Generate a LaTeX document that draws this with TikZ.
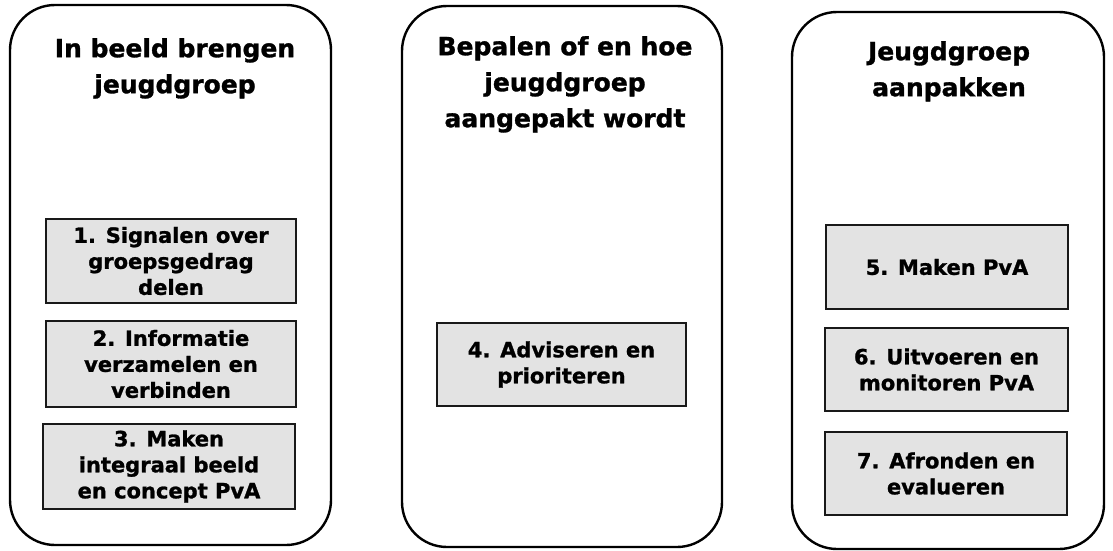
\documentclass[tikz,border=0pt]{standalone}
\usepackage{fontspec}
\setmainfont{DejaVu Sans}
\newfontfamily\heavyfont{DejaVu Sans Bold}[FakeBold=1.2]
\begin{document}
\begin{tikzpicture}[x=1pt,y=-1pt,
  panel/.style={draw=black, line width=2.4pt, rounded corners=45pt, inner sep=0pt},
  title/.style={font=\heavyfont\fontsize{25}{36}\selectfont, align=center, inner sep=0pt, text=black},
  stepbox/.style={draw=black!90, line width=1.8pt, fill=black!11, inner sep=0pt, align=center,
    font=\heavyfont\fontsize{21}{26}\selectfont, text=black}]
\useasboundingbox (0,0) rectangle (1113,551);
\fill[white] (0,0) rectangle (1113,551);
% panels
\node[panel, minimum width=321pt, minimum height=540pt] (p1) at (170.5,275) {};
\node[panel, minimum width=320pt, minimum height=541pt] (p2) at (562,276.5) {};
\node[panel, minimum width=312pt, minimum height=537pt] (p3) at (948,280.5) {};
% titles
\node[title, anchor=north] (t1) at (175,38) {In beeld brengen\\jeugdgroep};
\node[title, anchor=north] (t2) at (565,36) {Bepalen of en hoe\\jeugdgroep\\aangepakt wordt};
\node[title, anchor=north] (t3) at (949,41) {Jeugdgroep\\aanpakken};
% steps
\node[stepbox, minimum width=250pt, minimum height=84pt] (s1) at (171,261) {1. Signalen over\\groepsgedrag\\delen};
\node[stepbox, minimum width=250pt, minimum height=86pt] (s2) at (171,364) {2. Informatie\\verzamelen en\\verbinden};
\node[stepbox, minimum width=252pt, minimum height=85pt] (s3) at (169,466.5) {3. Maken\\integraal beeld\\en concept PvA};
\node[stepbox, minimum width=249pt, minimum height=83pt] (s4) at (561.5,364.5) {4. Adviseren en\\prioriteren};
\node[stepbox, minimum width=242pt, minimum height=84pt] (s5) at (947,267) {5. Maken PvA};
\node[stepbox, minimum width=243pt, minimum height=83pt] (s6) at (946.5,369.5) {6. Uitvoeren en\\monitoren PvA};
\node[stepbox, minimum width=242pt, minimum height=83pt] (s7) at (946,473.5) {7. Afronden en\\evalueren};
\end{tikzpicture}
\end{document}
